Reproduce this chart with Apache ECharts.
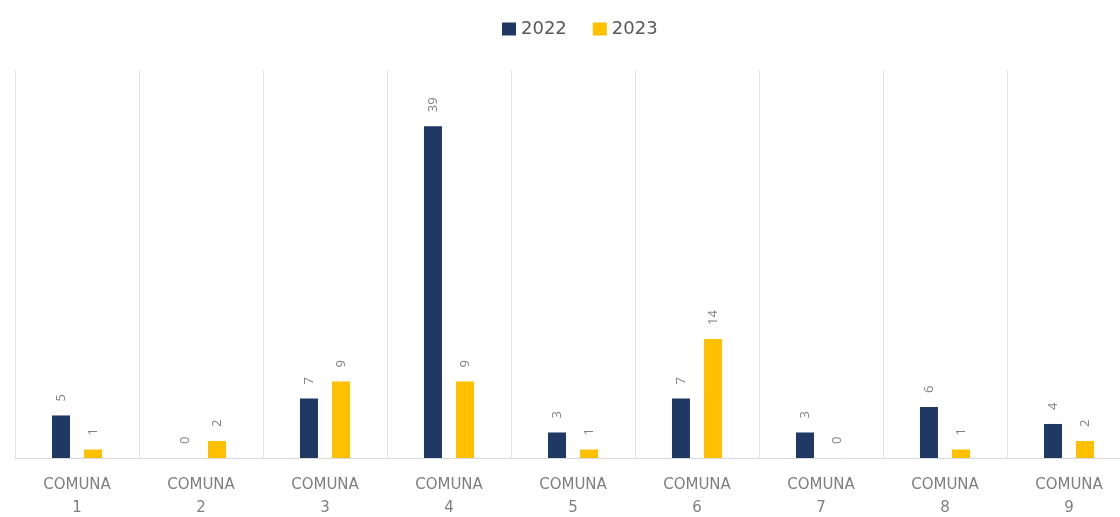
<!DOCTYPE html>
<html>
<head>
<meta charset="utf-8">
<script src="https://cdn.jsdelivr.net/npm/echarts@6/dist/echarts.min.js"></script>
<style>
html,body{margin:0;padding:0;background:#fff;}
#chart{width:1120px;height:517px;}
</style>
</head>
<body>
<div id="chart"></div>
<script>
const categories = ['COMUNA\n1','COMUNA\n2','COMUNA\n3','COMUNA\n4','COMUNA\n5','COMUNA\n6','COMUNA\n7','COMUNA\n8','COMUNA\n9'];
const seriesNames = ['2022','2023'];
const values2022 = [5,0,7,39,3,7,3,6,4];
const values2023 = [1,2,9,9,1,14,0,1,2];

const chart = echarts.init(document.getElementById('chart'));
const labelStyle = {
  show: true,
  position: 'top',
  rotate: 90,
  align: 'left',
  verticalAlign: 'middle',
  distance: 14,
  fontSize: 13,
  color: '#808080',
  fontFamily: 'Open Sans'
};
chart.setOption({
  animation: false,
  backgroundColor: '#ffffff',
  legend: {
    data: seriesNames,
    left: 497,
    top: 15,
    itemWidth: 14,
    itemHeight: 13,
    itemGap: 26,
    icon: 'rect',
    textStyle: { fontSize: 18, color: '#595959', fontFamily: 'DejaVu Sans' }
  },
  grid: { left: 15, width: 1116, top: 70, bottom: 59, containLabel: false, outerBoundsMode: 'none' },
  xAxis: {
    type: 'category',
    data: categories,
    boundaryGap: true,
    axisLine: { show: true, lineStyle: { color: '#d9d9d9', width: 1 } },
    axisTick: { show: false },
    splitLine: { show: true, lineStyle: { color: '#e3e3e3', width: 1 } },
    axisLabel: {
      interval: 0,
      margin: 16,
      fontSize: 15,
      lineHeight: 23,
      color: '#7f7f7f',
      fontFamily: 'DejaVu Sans'
    }
  },
  yAxis: {
    type: 'value',
    min: 0,
    max: 45.6,
    show: false,
    splitLine: { show: false }
  },
  series: [
    {
      name: seriesNames[0],
      type: 'bar',
      data: values2022,
      barWidth: 18,
      barGap: '78%',
      itemStyle: { color: '#203864' },
      label: labelStyle
    },
    {
      name: seriesNames[1],
      type: 'bar',
      data: values2023,
      barWidth: 18,
      barGap: '78%',
      itemStyle: { color: '#FFC000' },
      label: labelStyle
    }
  ]
});
</script>
</body>
</html>
